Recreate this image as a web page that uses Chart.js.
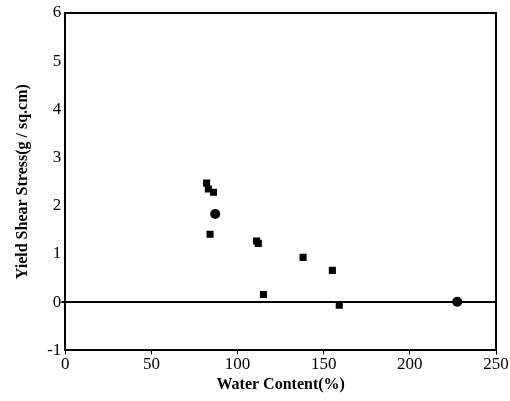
<!DOCTYPE html>
<html>
<head>
<meta charset="utf-8">
<script src="https://cdn.jsdelivr.net/npm/chart.js@4"></script>
<style>
  html, body { margin: 0; padding: 0; background: #fff; }
  #wrap { width: 510px; height: 401px; }
</style>
</head>
<body>
<div id="wrap"><canvas id="c" width="510" height="401"></canvas></div>
<script>
// water content (%) and yield shear stress (g/sq.cm)
const waterContent = [82, 83, 86, 87, 84, 111, 112, 115, 138, 155, 159, 227.5];
const shearStress  = [2.47, 2.35, 2.28, 1.83, 1.41, 1.27, 1.22, 0.16, 0.93, 0.66, -0.06, 0.01];
const markerShape  = ['rect', 'rect', 'rect', 'circle', 'rect', 'rect', 'rect', 'rect', 'rect', 'rect', 'rect', 'circle'];

const xTicks = [0, 50, 100, 150, 200, 250];
const yTicks = [-1, 0, 1, 2, 3, 4, 5, 6];

const points = waterContent.map((x, i) => ({ x: x, y: shearStress[i] }));
const FONT = "'Liberation Serif', 'DejaVu Serif', serif";

new Chart(document.getElementById('c'), {
  type: 'scatter',
  data: {
    datasets: [{
      data: points,
      pointStyle: markerShape,
      pointRadius: 5,
      backgroundColor: '#000',
      borderColor: '#000',
      borderWidth: 0
    }]
  },
  options: {
    responsive: false,
    animation: false,
    layout: { padding: { top: 13, right: 14, left: 13, bottom: 3 } },
    plugins: { legend: { display: false }, tooltip: { enabled: false } },
    scales: {
      x: {
        type: 'linear',
        min: 0, max: 250,
        afterBuildTicks: (axis) => { axis.ticks = xTicks.map(v => ({ value: v })); },
        grid: { drawOnChartArea: false, color: '#000', tickLength: 4 },
        border: { color: '#000', width: 2 },
        ticks: { color: '#000', font: { family: FONT, size: 17 }, padding: 0, maxRotation: 0 },
        title: { display: true, text: 'Water Content(%)', color: '#000', font: { family: FONT, size: 16, weight: 'bold' }, padding: { top: 0 } }
      },
      y: {
        type: 'linear',
        min: -1, max: 6,
        afterBuildTicks: (axis) => { axis.ticks = yTicks.map(v => ({ value: v })); },
        grid: {
          color: (ctx) => ctx.tick && ctx.tick.value === 0 ? '#000' : 'rgba(0,0,0,0)',
          lineWidth: 2,
          tickLength: 4
        },
        border: { color: '#000', width: 2 },
        ticks: { color: '#000', font: { family: FONT, size: 17 }, padding: 0 },
        title: { display: true, text: 'Yield Shear Stress(g / sq.cm)', color: '#000', font: { family: FONT, size: 16, weight: 'bold' }, padding: { top: 0, bottom: 15 } }
      }
    }
  },
  plugins: [{
    id: 'frame',
    afterDraw(chart) {
      const a = chart.chartArea, c = chart.ctx;
      c.save();
      c.strokeStyle = '#000';
      c.lineWidth = 2;
      c.beginPath();
      c.moveTo(a.left, a.top);
      c.lineTo(a.right, a.top);
      c.lineTo(a.right, a.bottom);
      c.stroke();
      c.restore();
    }
  }]
});
</script>
</body>
</html>
